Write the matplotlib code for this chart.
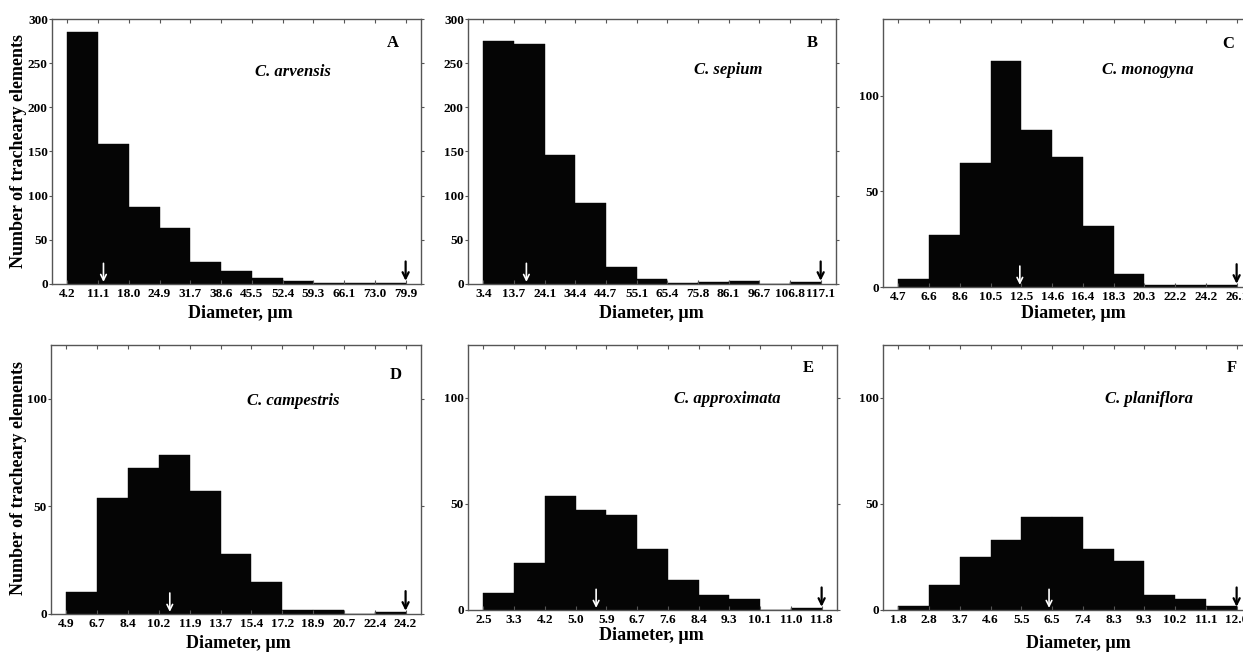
import numpy as np
import matplotlib
matplotlib.use("Agg")
import matplotlib.pyplot as plt

plt.rcParams['font.family'] = ['Liberation Serif', 'DejaVu Serif']
plt.rcParams['font.weight'] = 'bold'

# ---------------- data ----------------
letters = ["A", "B", "C", "D", "E", "F"]
species = ["C. arvensis", "C. sepium", "C. monogyna",
           "C. campestris", "C. approximata", "C. planiflora"]

edges_A = ["4.2", "11.1", "18.0", "24.9", "31.7", "38.6", "45.5", "52.4", "59.3", "66.1", "73.0", "79.9"]
edges_B = ["3.4", "13.7", "24.1", "34.4", "44.7", "55.1", "65.4", "75.8", "86.1", "96.7", "106.8", "117.1"]
edges_C = ["4.7", "6.6", "8.6", "10.5", "12.5", "14.6", "16.4", "18.3", "20.3", "22.2", "24.2", "26.1"]
edges_D = ["4.9", "6.7", "8.4", "10.2", "11.9", "13.7", "15.4", "17.2", "18.9", "20.7", "22.4", "24.2"]
edges_E = ["2.5", "3.3", "4.2", "5.0", "5.9", "6.7", "7.6", "8.4", "9.3", "10.1", "11.0", "11.8"]
edges_F = ["1.8", "2.8", "3.7", "4.6", "5.5", "6.5", "7.4", "8.3", "9.3", "10.2", "11.1", "12.0"]

counts_A = [285, 158, 87, 63, 25, 15, 7, 3, 0.6, 0.6, 0.6]
counts_B = [275, 272, 146, 92, 19, 6, 0.6, 2, 3, 0, 2]
counts_C = [4, 27, 65, 118, 82, 68, 32, 7, 1, 1, 1]
counts_D = [10, 54, 68, 74, 57, 28, 15, 2, 2, 0, 1]
counts_E = [8, 22, 54, 47, 45, 29, 14, 7, 5, 0, 1]
counts_F = [2, 12, 25, 33, 44, 44, 29, 23, 7, 5, 2]

mean_diam = [12.3, 17.9, 12.4, 10.8, 5.6, 6.4]      # white arrows
max_diam = [79.9, 117.1, 26.1, 24.2, 11.8, 12.0]     # black arrows

ymax = [300, 300, 140, 125, 125, 125]
yticks = [[0, 50, 100, 150, 200, 250, 300], [0, 50, 100, 150, 200, 250, 300],
          [0, 50, 100], [0, 50, 100], [0, 50, 100], [0, 50, 100]]

all_edges = [edges_A, edges_B, edges_C, edges_D, edges_E, edges_F]
all_counts = [counts_A, counts_B, counts_C, counts_D, counts_E, counts_F]

# ---------------- layout (pixels) ----------------
W, H = 1243, 652
boxes = [(52, 421, 19, 284), (468, 836, 19, 284), (883, 1252, 19, 287),
         (51, 421, 345, 614), (468, 837, 345, 610), (883, 1252, 345, 610)]
letter_pos = [(393, 43), (812, 43), (1228, 44), (396, 375), (808, 368), (1232, 368)]
species_pos = [(293, 72), (728, 70), (1148, 70), (293, 401), (727, 399), (1149, 399)]
xlabel_pos = [(240, 313), (651, 313), (1073, 314), (238, 643), (651, 635), (1078, 643)]

fig = plt.figure(figsize=(W / 100, H / 100), dpi=100)
fig.patch.set_facecolor('white')

def fx(px):
    return px / W

def fy(py):
    return 1 - py / H

spine_col = '#555555'
for k in range(6):
    l, r, t, b = boxes[k]
    ax = fig.add_axes([fx(l), fy(b), (r - l) / W, (b - t) / H])
    edges = all_edges[k]
    counts = all_counts[k]
    nb = len(counts)
    xs = np.arange(nb) + 0.5
    ax.bar(xs, counts, width=1.0, color='#050505', edgecolor='#050505', linewidth=0.3)
    ax.set_xlim(-0.5, nb + 0.5)
    ax.set_ylim(0, ymax[k])
    ax.set_xticks(np.arange(nb + 1))
    ax.set_xticklabels(edges, fontsize=9.5, fontweight='bold')
    ax.set_yticks(yticks[k])
    ax.set_yticklabels([str(v) for v in yticks[k]], fontsize=9.5, fontweight='bold')
    ax.tick_params(axis='both', direction='in', top=True, right=True, length=3,
                   width=0.8, color=spine_col, pad=3)
    ax.tick_params(axis='y', direction='out', left=True, length=2, pad=1)
    for s in ax.spines.values():
        s.set_color(spine_col)
        s.set_linewidth(1.0)

    edge_vals = np.array([float(e) for e in edges])
    idx = np.arange(nb + 1)
    xm = np.interp(mean_diam[k], edge_vals, idx)
    xM = np.interp(max_diam[k], edge_vals, idx)
    ax.annotate('', xy=(xm, 0.008), xycoords=('data', 'axes fraction'),
                xytext=(xm, 0.078), textcoords=('data', 'axes fraction'),
                arrowprops=dict(arrowstyle='->', color='white', lw=1.2,
                                mutation_scale=10, shrinkA=0, shrinkB=0))
    ax.annotate('', xy=(xM, 0.012), xycoords=('data', 'axes fraction'),
                xytext=(xM, 0.085), textcoords=('data', 'axes fraction'),
                arrowprops=dict(arrowstyle='->', color='black', lw=1.6,
                                mutation_scale=11, shrinkA=0, shrinkB=0))

    lx, ly = letter_pos[k]
    fig.text(fx(lx), fy(ly), letters[k], fontsize=12, fontweight='bold',
             ha='center', va='center')
    sx, sy = species_pos[k]
    fig.text(fx(sx), fy(sy), species[k], fontsize=12, fontweight='bold',
             style='italic', ha='center', va='center')
    xx, xy = xlabel_pos[k]
    fig.text(fx(xx), fy(xy), "Diameter, µm", fontsize=13, fontweight='bold',
             ha='center', va='center')

fig.text(fx(19), fy(151), "Number of tracheary elements", fontsize=13,
         fontweight='bold', rotation=90, ha='center', va='center')
fig.text(fx(19), fy(478), "Number of tracheary elements", fontsize=13,
         fontweight='bold', rotation=90, ha='center', va='center')

fig.savefig("out.png", dpi=100, facecolor='white')
